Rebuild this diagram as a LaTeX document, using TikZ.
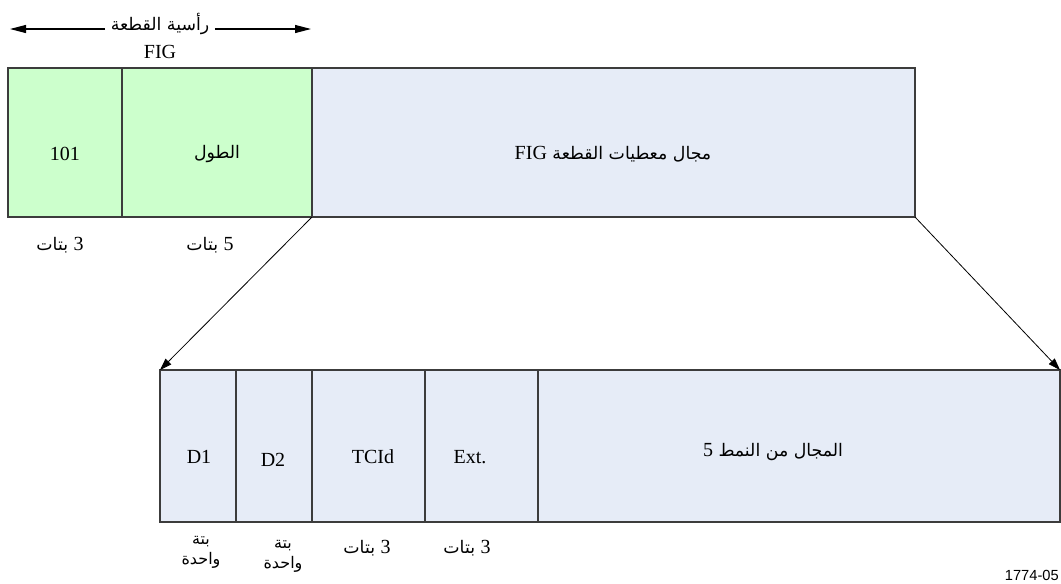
\documentclass[tikz,border=0pt]{standalone}
\usepackage{fontspec}
\setmainfont{Liberation Serif}
\newfontfamily\arabicfont[Script=Arabic]{DejaVu Sans}
\newfontfamily\figsans{Liberation Sans}
\TeXXeTstate=1
\usetikzlibrary{arrows.meta}
\definecolor{hdrgreen}{RGB}{204,255,204}
\definecolor{databluefill}{RGB}{230,236,247}
\definecolor{edgegray}{RGB}{60,60,60}
\newcommand{\latnum}[1]{{\rmfamily\fontsize{15}{17}\selectfont #1}}
\tikzset{
  field/.style={draw=edgegray, line width=0.8pt, inner sep=0pt, outer sep=0pt, anchor=north west},
  lat/.style={font=\fontsize{15}{17}\selectfont, inner sep=1pt},
  ara/.style={font=\arabicfont\fontsize{13}{16}\selectfont, inner sep=1pt},
  link/.style={line width=0.6pt, -{Triangle[length=9pt,width=6pt]}},
  span/.style={line width=0.8pt, -{Triangle[length=12pt,width=6pt]}}
}
\begin{document}
\begin{tikzpicture}[x=0.75pt,y=-0.75pt]
\useasboundingbox (0,0) rectangle (1061,583);
% top row
\node[field, fill=hdrgreen, minimum width=85.5pt, minimum height=111.75pt] (sync) at (8,68) {};
\node[field, fill=hdrgreen, minimum width=142.5pt, minimum height=111.75pt] (len) at (122,68) {};
\node[field, fill=databluefill, minimum width=452.25pt, minimum height=111.75pt] (data) at (312,68) {};
\node[lat] (tsync) at (65,154) {101};
\node[ara] (tlen) at (217,154) {الطول};
\node[ara] (tdata) at (613,154) {\beginR مجال معطيات القطعة \beginL\latnum{FIG}\endL\endR};
\node[ara] (bsync) at (60,245) {\beginR\latnum{3} بتات\endR};
\node[ara] (blen) at (210,245) {\beginR\latnum{5} بتات\endR};
% header span arrow
\node[ara, inner sep=4pt] (hdr) at (160,24) {\beginR رأسية القطعة\endR};
\node[lat] (fig) at (160,52) {FIG};
\coordinate (hl) at (10,29);
\coordinate (hr) at (311,29);
\draw[span] (hdr.west |- hl) -- (hl);
\draw[span] (hdr.east |- hr) -- (hr);
% bottom row
\node[field, fill=databluefill, minimum width=57pt, minimum height=114pt] (d1) at (160,370) {};
\node[field, fill=databluefill, minimum width=57pt, minimum height=114pt] (d2) at (236,370) {};
\node[field, fill=databluefill, minimum width=84.75pt, minimum height=114pt] (tcid) at (312,370) {};
\node[field, fill=databluefill, minimum width=84.75pt, minimum height=114pt] (ext) at (425,370) {};
\node[field, fill=databluefill, minimum width=391.5pt, minimum height=114pt] (t5) at (538,370) {};
\node[lat] (td1) at (199,457) {D1};
\node[lat] (td2) at (273,460) {D2};
\node[lat] (ttcid) at (373,457) {TCId};
\node[lat] (text) at (470,457) {Ext.};
\node[ara] (tt5) at (773,452) {\latnum{5} \beginR المجال من النمط\endR};
\node[ara, align=center, font=\arabicfont\fontsize{12}{15}\selectfont] (bd1) at (201,552) {بتة\\واحدة};
\node[ara, align=center, font=\arabicfont\fontsize{12}{15}\selectfont] (bd2) at (283,556) {بتة\\واحدة};
\node[ara] (btcid) at (367,548) {\beginR\latnum{3} بتات\endR};
\node[ara] (bext) at (467,548) {\beginR\latnum{3} بتات\endR};
% expansion connectors
\draw[link] (len.south east) -- (d1.north west);
\draw[link] (data.south east) -- (t5.north east);
% figure number
\node[font=\figsans\fontsize{11}{13}\selectfont, anchor=south east, inner sep=0pt] (fignum) at (1059,581) {1774-05};
\end{tikzpicture}
\end{document}
